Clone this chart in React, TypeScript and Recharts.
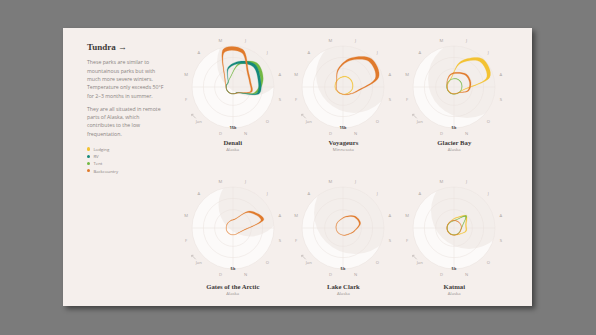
import React from "react";
import {
  RadarChart,
  Radar,
  PolarGrid,
  PolarAngleAxis,
  PolarRadiusAxis
} from "recharts";

const MONTHS = ["Jan", "Feb", "Mar", "Apr", "May", "Jun", "Jul", "Aug", "Sep", "Oct", "Nov", "Dec"];
const MONTH_TICKS = ["Jan", "F", "M", "A", "M", "J", "J", "A", "S", "O", "N", "D"];

// overnight stays per month, in thousands
const denaliRV = [0, 0, 0, 0, 5.7, 8.7, 10.8, 9.5, 8.7, 0.6, 0, 0];
const denaliTent = [0, 0, 0, 0, 1.5, 8, 11.9, 10.7, 7.5, 0.5, 0, 0];
const denaliBackcountry = [0, 0, 0.3, 2.1, 14, 14, 6.6, 5.1, 5.5, 0.6, 0, 0];
const voyageursLodging = [0.15, 0.45, 0.6, 0.9, 1.35, 1.8, 1.8, 1.5, 1.2, 0.6, 0.3, 0.15];
const voyageursBackcountry = [0, 0, 0, 0.9, 5.3, 10.2, 14.6, 13.2, 3.8, 1.4, 0.5, 0];
const glacierLodging = [0, 0, 0, 0.05, 0.45, 2.9, 4.85, 4.4, 0.5, 0.1, 0, 0];
const glacierTent = [0.05, 0.05, 0.1, 0.15, 0.2, 0.25, 0.25, 0.2, 0.15, 0.1, 0.05, 0.05];
const glacierBackcountry = [0, 0, 0.05, 0.4, 0.95, 1.2, 1.6, 1.55, 1.2, 0.15, 0, 0];
const gatesBackcountry = [0, 0, 0, 0.05, 0.15, 0.4, 2.5, 3.65, 0.5, 0.05, 0, 0];
const lakeClarkBackcountry = [0, 0, 0.05, 0.15, 0.3, 0.75, 1.45, 1.65, 0.75, 0.25, 0.1, 0];
const katmaiLodging = [0, 0, 0, 0.05, 0.2, 0.6, 1.55, 0.85, 0.85, 0.25, 0.05, 0];
const katmaiTent = [0, 0, 0, 0, 0, 0.25, 1.55, 0.3, 0, 0, 0, 0];
const katmaiBackcountry = [0.05, 0.05, 0.05, 0.05, 0.1, 0.1, 0.1, 0.1, 0.05, 0.05, 0.05, 0.05];

const CATEGORIES = [
  { key: "lodging", label: "Lodging", color: "#f3c232" },
  { key: "rv", label: "RV", color: "#15897a" },
  { key: "tent", label: "Tent", color: "#72b843" },
  { key: "backcountry", label: "Backcountry", color: "#e07a2c" }
];
// drawing order (teal sits over green)
const DRAW_ORDER = ["lodging", "tent", "rv", "backcountry"];

const PARKS = [
  { name: "Denali", state: "Alaska", max: 15, series: { rv: denaliRV, tent: denaliTent, backcountry: denaliBackcountry } },
  { name: "Voyageurs", state: "Minnesota", max: 15, series: { lodging: voyageursLodging, backcountry: voyageursBackcountry } },
  { name: "Glacier Bay", state: "Alaska", max: 5, series: { lodging: glacierLodging, tent: glacierTent, backcountry: glacierBackcountry } },
  { name: "Gates of the Arctic", state: "Alaska", max: 5, series: { backcountry: gatesBackcountry } },
  { name: "Lake Clark", state: "Alaska", max: 5, series: { backcountry: lakeClarkBackcountry } },
  { name: "Katmai", state: "Alaska", max: 5, series: { lodging: katmaiLodging, tent: katmaiTent, backcountry: katmaiBackcountry } }
];

// layout / decoration
const COLS = [169.8, 280.4, 391.3];
const ROWS = [58.7, 200.3];
const SHADES = [
  [18, -25, 34],
  [11, -12, 38],
  [13, -8, 39],
  [17, -23, 31.5],
  [12, -15, 41],
  [15, -17, 38]
];
const W = 124;
const H = 116;
const CX = 62;
const CY = 58;
const OUTER = 41;
const BASE = 7;

const closedCurve = (pts: number[][]) => {
  const n = pts.length;
  let d = `M${pts[0][0].toFixed(2)},${pts[0][1].toFixed(2)}`;
  for (let i = 0; i < n; i++) {
    const p0 = pts[(i - 1 + n) % n];
    const p1 = pts[i];
    const p2 = pts[(i + 1) % n];
    const p3 = pts[(i + 2) % n];
    const c1x = p1[0] + (p2[0] - p0[0]) / 6;
    const c1y = p1[1] + (p2[1] - p0[1]) / 6;
    const c2x = p2[0] - (p3[0] - p1[0]) / 6;
    const c2y = p2[1] - (p3[1] - p1[1]) / 6;
    d += `C${c1x.toFixed(2)},${c1y.toFixed(2)} ${c2x.toFixed(2)},${c2y.toFixed(2)} ${p2[0].toFixed(2)},${p2[1].toFixed(2)}`;
  }
  return d + "Z";
};

const makeRibbon = (color: string, max: number) => (props: any) => {
  const pts = props.points ?? [];
  if (!pts.length) return <g />;
  const outer = pts.map((p: any) => [p.x, p.y]);
  const inner = pts.map((p: any) => {
    const w = 0.3 + (3.6 * Math.max(0, p.value)) / max;
    const r = Math.max(0.5, p.radius - w);
    const a = (-p.angle * Math.PI) / 180;
    return [p.cx + r * Math.cos(a), p.cy + r * Math.sin(a)];
  });
  return (
    <path
      d={closedCurve(outer) + closedCurve(inner)}
      fill={color}
      fillRule="evenodd"
      stroke={color}
      strokeWidth={0.3}
      strokeOpacity={0.8}
    />
  );
};

const MonthTick = ({ x, y, payload }: any) => {
  const i = MONTHS.indexOf(payload.value);
  return (
    <g>
      <text
        x={x}
        y={y}
        textAnchor="middle"
        dominantBaseline="central"
        fontSize={4.2}
        fontFamily="Open Sans"
        fill="#aca5a2"
      >
        {MONTH_TICKS[i]}
      </text>
      {i === 0 && (
        <path
          d={`M${x - 3},${y - 3} L${x - 7},${y - 7} M${x - 7},${y - 5.2} L${x - 7},${y - 7} L${x - 5.2},${y - 7}`}
          stroke="#aca5a2"
          strokeWidth={0.5}
          fill="none"
        />
      )}
    </g>
  );
};

const ScaleTick = ({ x, y, payload }: any) => (
  <text
    x={x}
    y={y - 0.8}
    textAnchor="middle"
    dominantBaseline="central"
    fontSize={4}
    fontWeight={700}
    fontFamily="Open Sans"
    fill="#444"
  >
    {payload.value}k
  </text>
);

const ParkChart = ({ park, index }: any) => {
  const data = MONTHS.map((m, i) => {
    const row: any = { month: m };
    for (const c of CATEGORIES) {
      const s = (park.series as any)[c.key];
      if (s) row[c.key] = s[i];
    }
    return row;
  });
  const lo = (-park.max * BASE) / (OUTER - BASE);
  const gridRadii = [1, 2, 3].map((k) => BASE + ((OUTER - BASE) * k) / 3);
  const [dx, dy, sr] = SHADES[index];
  const left = COLS[index % 3] - CX;
  const top = ROWS[Math.floor(index / 3)] - CY;
  const clipId = `moon-${index}`;
  const series = DRAW_ORDER.filter((k) => (park.series as any)[k]).map(
    (k) => CATEGORIES.find((c) => c.key === k)!
  );

  return (
    <div style={{ position: "absolute", left, top, width: W, height: H }}>
      <svg width={W} height={H} style={{ position: "absolute", left: 0, top: 0 }}>
        <defs>
          <clipPath id={clipId}>
            <circle cx={CX} cy={CY} r={OUTER} />
          </clipPath>
        </defs>
        <circle cx={CX} cy={CY} r={OUTER} fill="#fcfaf9" />
        <circle cx={CX + dx} cy={CY + dy} r={sr} fill="#f3eeeb" clipPath={`url(#${clipId})`} />
      </svg>
      <div style={{ position: "absolute", left: 0, top: 0 }}>
        <RadarChart
          width={W}
          height={H}
          cx={CX}
          cy={CY}
          innerRadius={0}
          outerRadius={OUTER}
          startAngle={225}
          endAngle={-135}
          data={data}
          margin={{ top: 0, right: 0, bottom: 0, left: 0 }}
        >
          <PolarGrid
            gridType="circle"
            polarAngles={[0, 90, 180, 270]}
            polarRadius={gridRadii}
            stroke="#e9e1dd"
            strokeWidth={0.5}
          />
          <PolarAngleAxis
            dataKey="month"
            axisLine={false}
            tickLine={false}
            tickSize={7.5}
            tick={<MonthTick />}
          />
          <PolarRadiusAxis
            type="number"
            angle={-90}
            domain={[lo, park.max]}
            allowDataOverflow
            ticks={[park.max]}
            axisLine={false}
            tickLine={false}
            tick={<ScaleTick />}
          />
          {series.map((c) => (
            <Radar
              key={c.key}
              dataKey={c.key}
              isAnimationActive={false}
              dot={false}
              shape={makeRibbon(c.color, park.max)}
            />
          ))}
        </RadarChart>
      </div>
    </div>
  );
};

const serif = "'Liberation Serif', 'DejaVu Serif', serif";
const sans = "'Open Sans', 'Noto Sans', sans-serif";

export default function App() {
  return (
    <div
      style={{
        position: "absolute",
        left: 0,
        top: 0,
        width: 596,
        height: 335,
        background: "#7b7b7b",
        overflow: "hidden"
      }}
    >
      <div
        style={{
          position: "absolute",
          left: 63,
          top: 28,
          width: 469,
          height: 278,
          background: "#f5efec",
          boxShadow: "3px 3px 5px rgba(0,0,0,0.45)"
        }}
      >
        <div
          style={{
            position: "absolute",
            left: 24,
            top: 14,
            fontFamily: serif,
            fontWeight: 700,
            fontSize: 9,
            lineHeight: "11px",
            color: "#3d3a39"
          }}
        >
          Tundra →
        </div>
        <div
          style={{
            position: "absolute",
            left: 24,
            top: 30.1,
            fontFamily: sans,
            fontSize: 5.2,
            lineHeight: "8.4px",
            color: "#8a8482",
            whiteSpace: "nowrap"
          }}
        >
          These parks are similar to<br />
          mountainous parks but with<br />
          much more severe winters.<br />
          Temperature only exceeds 50°F<br />
          for 2–3 months in summer.
        </div>
        <div
          style={{
            position: "absolute",
            left: 24,
            top: 76.5,
            fontFamily: sans,
            fontSize: 5.2,
            lineHeight: "8.4px",
            color: "#8a8482",
            whiteSpace: "nowrap"
          }}
        >
          They are all situated in remote<br />
          parts of Alaska, which<br />
          contributes to the low<br />
          frequentation.
        </div>
        {CATEGORIES.map((c, i) => (
          <div
            key={c.key}
            style={{
              position: "absolute",
              left: 24,
              top: 121 + i * 7.2 - 3,
              height: 6,
              display: "flex",
              alignItems: "center",
              fontFamily: sans,
              fontSize: 4.3,
              color: "#8a8482",
              whiteSpace: "nowrap"
            }}
          >
            <span
              style={{
                display: "inline-block",
                width: 3.2,
                height: 3.2,
                borderRadius: "50%",
                background: c.color,
                marginRight: 3.2
              }}
            />
            {c.label}
          </div>
        ))}
        {PARKS.map((p, i) => (
          <ParkChart key={p.name} park={p} index={i} />
        ))}
        {PARKS.map((p, i) => {
          const x = COLS[i % 3];
          const row = Math.floor(i / 3);
          const ty = row === 0 ? 114 : 258.5;
          return (
            <React.Fragment key={p.name + "-label"}>
              <div
                style={{
                  position: "absolute",
                  left: x - 50,
                  width: 100,
                  top: ty - 4.5,
                  textAlign: "center",
                  fontFamily: serif,
                  fontWeight: 700,
                  fontSize: 6.7,
                  lineHeight: "9px",
                  color: "#3d3a39"
                }}
              >
                {p.name}
              </div>
              <div
                style={{
                  position: "absolute",
                  left: x - 50,
                  width: 100,
                  top: ty + 7 - 3.5,
                  textAlign: "center",
                  fontFamily: sans,
                  fontSize: 4.3,
                  lineHeight: "7px",
                  color: "#9a9391"
                }}
              >
                {p.state}
              </div>
            </React.Fragment>
          );
        })}
      </div>
    </div>
  );
}
